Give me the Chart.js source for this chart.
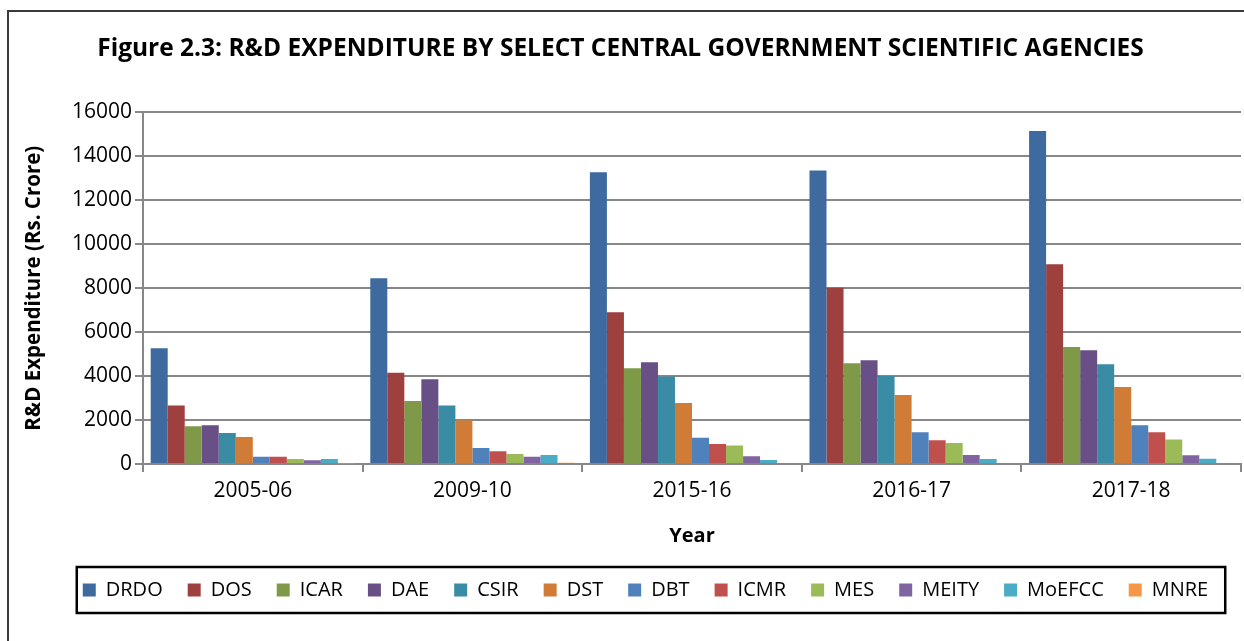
<!DOCTYPE html>
<html>
<head>
<meta charset="utf-8">
<script src="https://cdn.jsdelivr.net/npm/chart.js@4.4.1/dist/chart.umd.min.js"></script>
<style>
  html, body { margin: 0; padding: 0; background: #fff; }
  #wrap { position: relative; width: 1244px; height: 641px; }
  #frame { position: absolute; left: 7px; top: 10px; width: 1250px; height: 700px;
           border-left: 2px solid #3a3a3a; border-top: 2px solid #3a3a3a; pointer-events: none; }
</style>
</head>
<body>
<div id="wrap">
  <canvas id="chart" width="1244" height="641"></canvas>
  <div id="frame"></div>
</div>
<script>
const years = ["2005-06", "2009-10", "2015-16", "2016-17", "2017-18"];
const agencies = ["DRDO", "DOS", "ICAR", "DAE", "CSIR", "DST", "DBT", "ICMR", "MES", "MEITY", "MoEFCC", "MNRE"];
const colors = ["#3E6A9F", "#9E403D", "#7E9A48", "#684F86", "#3A8CA4", "#D07B36",
                "#4F81BD", "#C0504D", "#9BBB59", "#8064A2", "#4BACC6", "#F79646"];

// spending per agency, one value per year (Rs. crore)
const DRDO   = [5270, 8450, 13280, 13360, 15150];
const DOS    = [2660, 4150, 6900, 8020, 9090];
const ICAR   = [1720, 2870, 4360, 4590, 5320];
const DAE    = [1760, 3860, 4630, 4720, 5180];
const CSIR   = [1410, 2660, 3980, 4000, 4540];
const DST    = [1230, 1990, 2780, 3140, 3500];
const DBT    = [330, 730, 1200, 1440, 1760];
const ICMR   = [330, 580, 910, 1080, 1440];
const MES    = [230, 460, 840, 960, 1110];
const MEITY  = [170, 330, 350, 410, 400];
const MoEFCC = [230, 410, 180, 230, 240];
const MNRE   = [20, 60, 50, 50, 50];
const series = [DRDO, DOS, ICAR, DAE, CSIR, DST, DBT, ICMR, MES, MEITY, MoEFCC, MNRE];

const yTicks = [0, 2000, 4000, 6000, 8000, 10000, 12000, 14000, 16000];

const FONT = "'Open Sans', sans-serif";
const gridGray = "#878787";

// box round the legend, like the Excel one (and nudge it a bit right)
const legendBox = {
  id: "legendBox",
  afterLayout(chart) {
    const lg = chart.legend;
    lg.left += 25;
    lg.right += 25;
  },
  afterDraw(chart) {
    const lg = chart.legend;
    if (!lg || !lg.legendHitBoxes.length) return;
    const boxes = lg.legendHitBoxes;
    const ctx = chart.ctx;
    const x0 = boxes[0].left - 6;
    const last = boxes[boxes.length - 1];
    const x1 = last.left + last.width + 17;
    const midY = boxes[0].top + boxes[0].height / 2;
    ctx.save();
    ctx.strokeStyle = "#000";
    ctx.lineWidth = 2.5;
    ctx.strokeRect(x0, midY - 23, x1 - x0, 46);
    ctx.restore();
  }
};

new Chart(document.getElementById("chart"), {
  type: "bar",
  data: {
    labels: years,
    datasets: agencies.map((name, i) => ({
      label: name,
      data: series[i],
      backgroundColor: colors[i],
      borderWidth: 0,
      barPercentage: 1.0,
      categoryPercentage: 0.93
    }))
  },
  options: {
    responsive: false,
    animation: false,
    layout: { padding: { left: 0, right: 3, top: 0, bottom: 31 } },
    plugins: {
      title: {
        display: true,
        text: "Figure 2.3: R&D EXPENDITURE BY SELECT CENTRAL GOVERNMENT SCIENTIFIC AGENCIES",
        color: "#000",
        font: { family: FONT, size: 24.5, weight: "bold" },
        padding: { top: 34, bottom: 49 }
      },
      legend: {
        position: "bottom",
        labels: {
          color: "#000",
          font: { family: FONT, size: 20 },
          boxWidth: 13,
          boxHeight: 13,
          padding: 25
        }
      },
      tooltip: { enabled: false }
    },
    scales: {
      x: {
        grid: { display: true, drawOnChartArea: false, offset: true, color: gridGray, lineWidth: 2, tickLength: 8 },
        border: { color: gridGray, width: 2 },
        ticks: { color: "#000", font: { family: FONT, size: 21 }, padding: 6 },
        title: { display: true, text: "Year", color: "#000", font: { family: FONT, size: 20, weight: "bold" },
                 padding: { top: 0, bottom: 7 } },
        afterFit(scale) { scale.height = 91; }
      },
      y: {
        min: 0,
        max: 16000,
        afterBuildTicks(scale) { scale.ticks = yTicks.map(v => ({ value: v })); },
        grid: { color: gridGray, lineWidth: 2, tickLength: 8 },
        border: { color: gridGray, width: 2 },
        ticks: { color: "#000", font: { family: FONT, size: 21 }, padding: 3, callback: v => String(v) },
        title: { display: true, text: "R&D Expenditure (Rs. Crore)", color: "#000",
                 font: { family: FONT, size: 20.5, weight: "bold" }, padding: { top: 22, bottom: 0 } },
        afterFit(scale) { scale.width = 143; }
      }
    }
  },
  plugins: [legendBox]
});
</script>
</body>
</html>
